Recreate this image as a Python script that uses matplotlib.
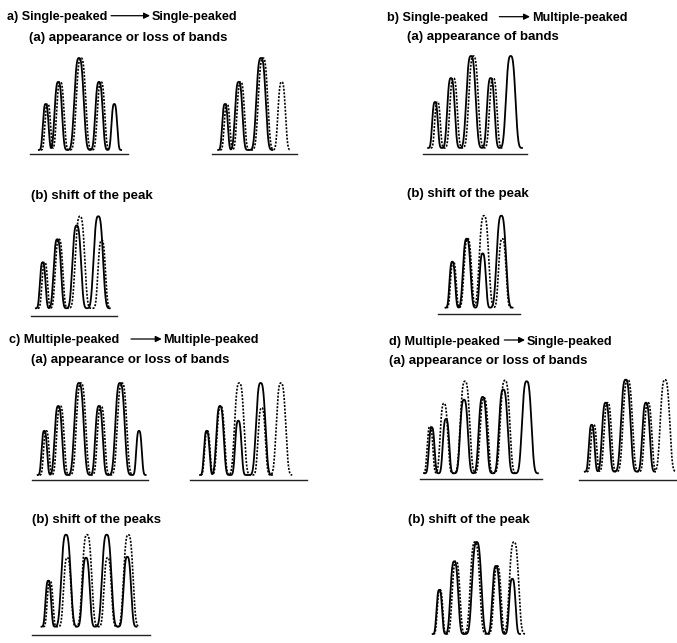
import numpy as np
import matplotlib.pyplot as plt

# peak positions (px from the left end of each trace) and relative heights
# a) single-peaked -> single-peaked, (a) left / right
a1_solid_pos = [15.7, 28.3, 49.0, 69.0, 84.3]
a1_solid_h = [0.50, 0.74, 1.00, 0.74, 0.50]
a1_dash_pos = [17.7, 30.3, 51.0, 71.0]
a1_dash_h = [0.50, 0.74, 1.00, 0.74]

a2_solid_pos = [13.3, 27.0, 49.3]
a2_solid_h = [0.50, 0.74, 1.00]
a2_dash_pos = [15.3, 29.0, 51.3, 70.0]
a2_dash_h = [0.50, 0.74, 1.00, 0.74]

# a) (b) shift of the peak
a3_solid_pos = [12.0, 26.6, 46.0, 67.6]
a3_solid_h = [0.50, 0.75, 0.90, 1.00]
a3_dash_pos = [14.0, 28.3, 49.3, 71.0]
a3_dash_h = [0.50, 0.75, 1.00, 0.74]

# b) single-peaked -> multiple-peaked
b1_solid_pos = [11.7, 27.7, 47.7, 67.4, 87.4]
b1_solid_h = [0.50, 0.76, 1.00, 0.76, 1.00]
b1_dash_pos = [14.2, 30.2, 50.2, 69.9]
b1_dash_h = [0.50, 0.76, 1.00, 0.76]

b2_solid_pos = [14.0, 28.4, 44.4, 63.0]
b2_solid_h = [0.50, 0.75, 0.59, 1.00]
b2_dash_pos = [15.0, 29.4, 45.7, 64.0]
b2_dash_h = [0.50, 0.75, 1.00, 0.75]

# c) multiple-peaked -> multiple-peaked
c1_solid_pos = [12.6, 26.6, 47.3, 67.3, 88.3, 107.3]
c1_solid_h = [0.48, 0.75, 1.00, 0.75, 1.00, 0.48]
c1_dash_pos = [14.6, 28.6, 49.3, 69.3, 90.3]
c1_dash_h = [0.48, 0.75, 1.00, 0.75, 1.00]

c2_solid_pos = [16.7, 30.0, 48.3, 70.7]
c2_solid_h = [0.48, 0.75, 0.59, 1.00]
c2_dash_pos = [17.3, 30.7, 49.3, 71.7, 91.0]
c2_dash_h = [0.48, 0.75, 1.00, 0.73, 1.00]

c3_solid_pos = [16.6, 34.3, 54.3, 75.0, 95.6]
c3_solid_h = [0.50, 1.00, 0.75, 1.00, 0.76]
c3_dash_pos = [18.3, 35.6, 55.3, 76.0, 96.6]
c3_dash_h = [0.50, 0.75, 1.00, 0.75, 1.00]

# d) multiple-peaked -> single-peaked
d1_solid_pos = [11.7, 26.0, 44.0, 62.7, 83.3, 106.7]
d1_solid_h = [0.50, 0.59, 0.80, 0.83, 0.91, 1.00]
d1_dash_pos = [10.0, 24.0, 45.0, 64.0, 85.0]
d1_dash_h = [0.51, 0.76, 1.00, 0.82, 1.01]

d2_solid_pos = [12.4, 26.4, 46.4, 66.7]
d2_solid_h = [0.51, 0.75, 1.00, 0.75]
d2_dash_pos = [14.4, 28.4, 48.4, 68.7, 85.7]
d2_dash_h = [0.51, 0.75, 1.00, 0.75, 1.00]

d3_solid_pos = [9.3, 24.3, 46.7, 66.0, 82.3]
d3_solid_h = [0.48, 0.79, 1.00, 0.74, 0.60]
d3_dash_pos = [10.0, 26.0, 45.0, 67.3, 84.0]
d3_dash_h = [0.48, 0.79, 1.00, 0.74, 1.00]

titles = ["a) Single-peaked", "Single-peaked",
          "b) Single-peaked", "Multiple-peaked",
          "c) Multiple-peaked", "Multiple-peaked",
          "d) Multiple-peaked", "Single-peaked"]
subtitles = ["(a) appearance or loss of bands", "(b) shift of the peak",
             "(a) appearance of bands", "(b) shift of the peak",
             "(a) appearance or loss of bands", "(b) shift of the peaks",
             "(a) appearance or loss of bands", "(b) shift of the peak"]

# layout: x origin, y of trace bottom, y of baseline, x end of baseline (pixels)
panels = [
    (a1_solid_pos, a1_solid_h, a1_dash_pos, a1_dash_h, 30.0, 150.0, 154.0, 128.0),
    (a2_solid_pos, a2_solid_h, a2_dash_pos, a2_dash_h, 211.7, 150.0, 154.0, 296.7),
    (a3_solid_pos, a3_solid_h, a3_dash_pos, a3_dash_h, 30.7, 308.3, 315.7, 116.7),
    (b1_solid_pos, b1_solid_h, b1_dash_pos, b1_dash_h, 423.3, 148.0, 154.0, 526.7),
    (b2_solid_pos, b2_solid_h, b2_dash_pos, b2_dash_h, 438.3, 307.7, 314.0, 520.0),
    (c1_solid_pos, c1_solid_h, c1_dash_pos, c1_dash_h, 31.7, 475.0, 480.0, 148.3),
    (c2_solid_pos, c2_solid_h, c2_dash_pos, c2_dash_h, 190.0, 475.0, 480.0, 306.7),
    (c3_solid_pos, c3_solid_h, c3_dash_pos, c3_dash_h, 31.7, 626.7, 635.0, 150.0),
    (d1_solid_pos, d1_solid_h, d1_dash_pos, d1_dash_h, 420.0, 473.3, 479.3, 541.7),
    (d2_solid_pos, d2_solid_h, d2_dash_pos, d2_dash_h, 579.3, 471.7, 480.0, 676.7),
    (d3_solid_pos, d3_solid_h, d3_dash_pos, d3_dash_h, 430.0, 634.0, None, None),
]

PEAK_PX = 92.0


def peak_curve(pos, h):
    # sum of narrow super-gaussian bands, width grows with band height
    pos = np.asarray(pos, dtype=float)
    hp = np.asarray(h, dtype=float) * PEAK_PX
    s = 0.048 * hp + 1.2
    xs = np.linspace((pos - 2.0 * s).min(), (pos + 2.0 * s).max(), 1200)
    u = np.abs(xs[:, None] - pos[None, :]) / s[None, :]
    ys = (hp * np.exp(-u ** 3)).sum(axis=1)
    return xs, ys


fig = plt.figure(figsize=(6.77, 6.43), dpi=100)
ax = fig.add_axes([0, 0, 1, 1])
ax.set_xlim(0, 677)
ax.set_ylim(643, 0)
ax.axis("off")

for s_pos, s_h, d_pos, d_h, x0, yb, ybase, xend in panels:
    xs, ys = peak_curve(d_pos, d_h)
    ax.plot(x0 + xs, yb - ys, color="black", lw=1.2, ls=(0, (1.2, 0.9)))
    xs, ys = peak_curve(s_pos, s_h)
    ax.plot(x0 + xs, yb - ys, color="black", lw=1.3)
    if ybase is not None:
        ax.plot([x0, xend], [ybase, ybase], color="#222222", lw=1.0)

renderer = fig.canvas.get_renderer()
FONT = dict(family="Liberation Sans", weight="bold", color="black")


def fit_size(sample, target_px):
    t = fig.text(0, 0, sample, size=10, **FONT)
    w = t.get_window_extent(renderer).width
    t.remove()
    return 10 * target_px / w


title_size = fit_size("Single-peaked", 86)
sub_size = fit_size("(a) appearance or loss of bands", 200)

# titles with arrows: (x first text, x arrow start, x arrow tip, x second text, y)
title_layout = [(6.7, 108.3, 150.0, 151.5, 15.7),
                (386.7, 499.3, 530.0, 531.7, 16.7),
                (9.3, 131.0, 161.7, 162.7, 339.0),
                (389.3, 497.7, 525.0, 526.7, 340.0)]
for i, (xt, xa, xb, xt2, yt) in enumerate(title_layout):
    t1 = ax.text(xt, yt + 4.5, titles[2 * i], va="baseline", ha="left",
                 size=title_size, **FONT)
    ax.text(xt2, yt + 4.5, titles[2 * i + 1], va="baseline", ha="left",
            size=title_size, **FONT)
    bb = t1.get_window_extent(renderer)
    x_end = ax.transData.inverted().transform((bb.x1, bb.y0))[0]
    xa = max(xa, x_end + 4)
    ax.annotate("", xy=(xb, yt), xytext=(xa, yt),
                arrowprops=dict(arrowstyle="-|>", color="black", lw=0.9,
                                mutation_scale=9, shrinkA=0, shrinkB=0))

sub_layout = [(29.3, 41.2), (30.7, 198.5), (406.7, 40.2), (407.3, 197.2),
              (30.7, 362.8), (31.7, 522.8), (389.3, 363.8), (408.3, 522.8)]
for text, (xs_, ys_) in zip(subtitles, sub_layout):
    ax.text(xs_, ys_, text, va="baseline", ha="left", size=sub_size, **FONT)

fig.savefig("out.png", dpi=100, facecolor="white")
